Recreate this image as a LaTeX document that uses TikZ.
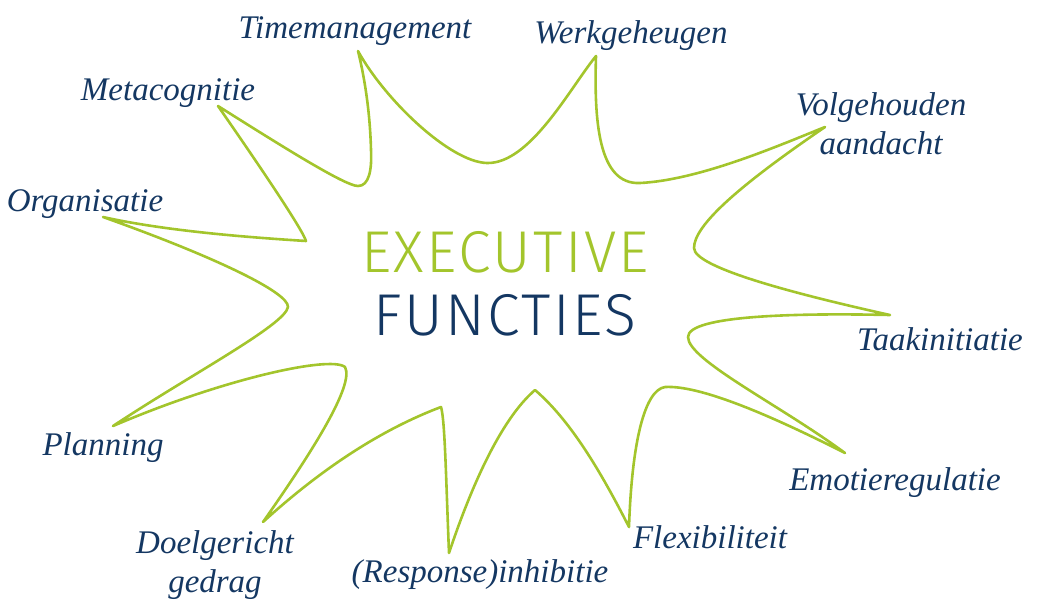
\documentclass[tikz,border=0pt]{standalone}
\usepackage{fontspec}
\setmainfont{Liberation Serif}
\newfontfamily\centerfont{Fira Sans Light}[LetterSpace=4]
\definecolor{efgreen}{RGB}{163,197,44}
\definecolor{efblue}{RGB}{20,55,98}

\begin{document}
\begin{tikzpicture}[x=0.5pt, y=-0.5pt,
    lbl/.style={anchor=base, inner sep=0pt, text=efblue, align=center,
        font=\fontsize{16.5}{19.5}\selectfont\itshape},
    title/.style={anchor=base, inner sep=0pt, font=\centerfont\fontsize{29.5}{30}\selectfont},
    burst/.style={draw=efgreen, line width=1.3pt, line join=round}]
    \useasboundingbox (0,0) rectangle (1037,601);

    % tips of the burst
    \coordinate (tMeta) at (218,106);
    \coordinate (tTime) at (358,51);
    \coordinate (tWerk) at (596,56);
    \coordinate (tVolg) at (825,127);
    \coordinate (tTaak) at (890,315);
    \coordinate (tEmo)  at (845,453);
    \coordinate (tFlex) at (629,527);
    \coordinate (tInh)  at (449,553);
    \coordinate (tDoel) at (263,522);
    \coordinate (tPlan) at (113,426);
    \coordinate (tOrg)  at (103,217);

    \draw[burst] (tMeta) .. controls (280,145) and (345,186) .. (358,186)
        .. controls (369,186) and (372,170) .. (371,150)
        .. controls (370,110) and (364,75) .. (tTime)
        .. controls (385,100) and (450,162) .. (487,163)
        .. controls (530,164) and (570,88) .. (tWerk)
        .. controls (594,120) and (598,185) .. (640,183)
        .. controls (700,180) and (780,145) .. (tVolg)
        .. controls (740,185) and (694,225) .. (694,248)
        .. controls (694,268) and (800,295) .. (tTaak)
        .. controls (800,313) and (688,315) .. (688,337)
        .. controls (688,360) and (780,405) .. (tEmo)
        .. controls (770,415) and (700,385) .. (665,387)
        .. controls (645,390) and (632,440) .. (tFlex)
        .. controls (600,470) and (570,420) .. (535,390)
        .. controls (500,420) and (470,490) .. (tInh)
        .. controls (446,480) and (445,420) .. (441,407)
        .. controls (380,430) and (320,470) .. (tDoel)
        .. controls (310,455) and (355,385) .. (345,367)
        .. controls (330,355) and (220,380) .. (tPlan)
        .. controls (190,375) and (285,325) .. (288,307)
        .. controls (289,292) and (210,255) .. (tOrg)
        .. controls (170,232) and (260,238) .. (306,241)
        .. controls (302,228) and (250,152) .. (tMeta) -- cycle;

    \foreach \nm/\px/\py/\txt in {time/355/38/Timemanagement, werk/631/43/Werkgeheugen,
            meta/168/100/Metacognitie, org/85/211/Organisatie,
            volg/881/154/{Volgehouden\\aandacht}, taak/940/350/Taakinitiatie,
            emo/895/490/Emotieregulatie, flex/710/548/Flexibiliteit,
            inh/480/582/{(Response)inhibitie}, doel/215/592/{Doelgericht\\gedrag},
            plan/103/455/Planning} {
        \node[lbl] (\nm) at (\px,\py) {\txt};
    }

    \node[title, text=efgreen] (exec) at (505,272) {EXECUTIVE};
    \node[title, text=efblue] (func) at (505,335) {FUNCTIES};
\end{tikzpicture}
\end{document}
